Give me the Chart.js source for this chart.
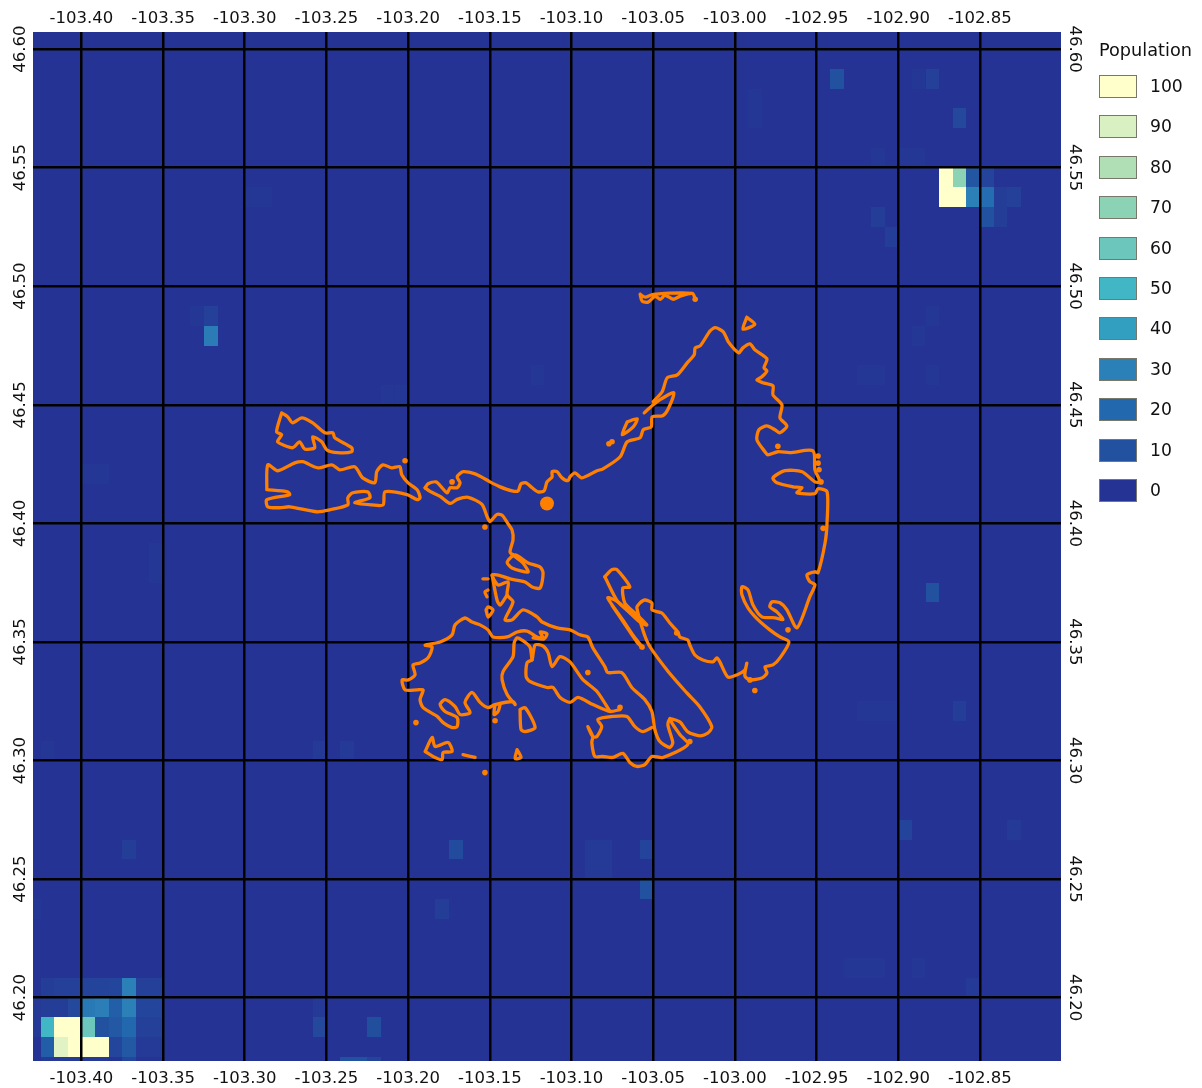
<!DOCTYPE html>
<html>
<head>
<meta charset="utf-8">
<script src="https://cdn.jsdelivr.net/npm/chart.js@4"></script>
<style>
    body { margin: 0; background: #fff; font-family: "DejaVu Sans", sans-serif; color: #111; }
    #wrap { position: relative; width: 1202px; height: 1088px; overflow: hidden; }
    #legend-title { position: absolute; left: 1099px; top: 40px; font-size: 17.7px; }
    .swatch { position: absolute; left: 1099px; width: 36px; height: 21px; border: 1px solid #77776a; }
    .swatch-label { position: absolute; left: 1150px; font-size: 17.2px; }
</style>
</head>
<body>
<div id="wrap">
    <canvas id="chart" width="1202" height="1088"></canvas>
    <div id="legend-title">Population</div>
</div>
<script>
//Axes
const lonTicks = [-103.40, -103.35, -103.30, -103.25, -103.20, -103.15, -103.10, -103.05, -103.00, -102.95, -102.90, -102.85];
const latTicks = [46.60, 46.55, 46.50, 46.45, 46.40, 46.35, 46.30, 46.25, 46.20];
const lonRange = [-103.4296, -102.8004];
const latRange = [46.1733, 46.6072];

//Legend
const legendValues = [100, 90, 80, 70, 60, 50, 40, 30, 20, 10, 0];
const legendColors = ['#ffffcc', '#d9f0c2', '#b0dfb6', '#8cd2b4', '#6cc6bc', '#41b6c4', '#339fc0', '#2c80b8', '#2268ae', '#22519f', '#253494'];

//Population raster, only cells above zero (30 arc second cells, west and north edge)
const cellSize = 1 / 120;
const cellLons = [
    -103.425, -103.4167, -103.4083, -103.40, -103.3917, -103.3833, -103.375, -103.3667, -103.3583,
    -103.4333, -103.425, -103.4167, -103.4083, -103.40, -103.3917, -103.3833, -103.375, -103.3667, -103.3583,
    -103.4333, -103.425, -103.4167, -103.4083, -103.40, -103.3917, -103.3833, -103.375, -103.3667, -103.3583,
    -103.425, -103.4167, -103.4083, -103.40, -103.3917, -103.3833, -103.375, -103.3667, -103.3583,
    -103.425, -103.4167, -103.4083, -103.40, -103.3917, -103.375,
    -102.875, -102.8667, -102.8583, -102.85,
    -102.875, -102.8667, -102.8583, -102.85, -102.8417, -102.8333,
    -102.85, -102.8417,
    -103.375, -103.175, -103.1833, -103.225, -103.2583, -103.2583, -103.2417, -103.2333, -103.225,
    -103.4333, -103.0583, -103.0583, -103.0917, -103.0833, -103.0917, -103.0833, -102.90, -102.8333,
    -102.9333, -102.925, -102.9167, -102.8917, -102.8583,
    -102.9417, -102.8833, -102.8917, -102.8667, -102.9167, -102.90, -102.8917, -102.9167, -102.9083,
    -103.325, -103.325, -103.3333, -102.8833, -102.8667, -102.925, -102.9167, -102.9083,
    -103.30, -103.2917, -102.9917, -102.9917, -103.2167, -103.2083, -103.125, -102.925, -102.9167,
    -102.8833, -102.8917, -102.8833, -103.3583, -103.3583, -103.40, -103.3917, -103.425, -103.2583, -103.2417
];
const cellLats = [
    46.2083, 46.2083, 46.2083, 46.2083, 46.2083, 46.2083, 46.2083, 46.2083, 46.2083,
    46.20, 46.20, 46.20, 46.20, 46.20, 46.20, 46.20, 46.20, 46.20, 46.20,
    46.1917, 46.1917, 46.1917, 46.1917, 46.1917, 46.1917, 46.1917, 46.1917, 46.1917, 46.1917,
    46.1833, 46.1833, 46.1833, 46.1833, 46.1833, 46.1833, 46.1833, 46.1833, 46.1833,
    46.175, 46.175, 46.175, 46.175, 46.175, 46.175,
    46.55, 46.55, 46.55, 46.55,
    46.5417, 46.5417, 46.5417, 46.5417, 46.5417, 46.5417,
    46.5333, 46.5333,
    46.2667, 46.2667, 46.2417, 46.1917, 46.1917, 46.20, 46.175, 46.175, 46.175,
    46.2417, 46.25, 46.2667, 46.2667, 46.2667, 46.2583, 46.2583, 46.275, 46.275,
    46.2167, 46.2167, 46.2167, 46.2167, 46.2083,
    46.5917, 46.5917, 46.5917, 46.575, 46.5583, 46.5583, 46.5583, 46.5333, 46.525,
    46.4833, 46.4917, 46.4917, 46.375, 46.325, 46.325, 46.325, 46.325,
    46.5417, 46.5417, 46.5833, 46.575, 46.4583, 46.4583, 46.4667, 46.4667, 46.4667,
    46.4667, 46.4833, 46.4917, 46.3917, 46.3833, 46.425, 46.425, 46.3083, 46.3083, 46.3083
];
const cellValues = [
    3, 4, 4, 5, 5, 6, 30, 4, 4,
    2, 3, 3, 7, 27, 29, 16, 30, 6, 6,
    2, 50, 100, 100, 60, 10, 13, 20, 4, 4,
    15, 92, 100, 100, 100, 6, 13, 2, 2,
    2, 2, 2, 2, 2, 6,
    100, 70, 12, 5,
    100, 100, 30, 22, 3, 4,
    10, 3,
    3, 8, 3, 9, 7, 2, 10, 10, 5,
    1, 10, 5, 2, 2, 2, 2, 5, 2,
    1, 1, 1, 1, 2,
    10, 4, 1, 7, 1, 1, 1, 3, 3,
    28, 4, 1, 10, 3, 1, 1, 1,
    1, 1, 1, 1, 1, 1, 1, 1, 1,
    1, 1, 1, 1, 1, 1, 1, 1, 2, 2
];

//Lake shore, [lon, lat]
const shoreNorth = [[-103.1896,46.4150],[-103.1878,46.4167],[-103.1829,46.4175],[-103.1792,46.4150],[-103.1761,46.4129],[-103.1743,46.4150],[-103.1700,46.4150],[-103.1682,46.4171],[-103.1700,46.4196],[-103.1663,46.4218],[-103.1590,46.4209],[-103.1541,46.4192],[-103.1499,46.4175],[-103.1437,46.4154],[-103.1364,46.4137],[-103.1327,46.4137],[-103.1309,46.4167],[-103.1278,46.4171],[-103.1241,46.4150],[-103.1205,46.4133],[-103.1168,46.4137],[-103.1150,46.4175],[-103.1119,46.4196],[-103.1119,46.4218],[-103.1089,46.4218],[-103.1058,46.4192],[-103.1021,46.4180],[-103.1009,46.4196],[-103.0979,46.4213],[-103.0936,46.4192],[-103.0844,46.4222],[-103.0807,46.4230],[-103.0702,46.4281],[-103.0659,46.4344],[-103.0580,46.4361],[-103.0561,46.4395],[-103.0512,46.4407],[-103.0506,46.4449],[-103.0442,46.4454],[-103.0411,46.4479],[-103.0374,46.4551],[-103.0460,46.4521],[-103.0500,46.4500],[-103.0555,46.4466]];
const shoreEast = [[-103.0500,46.4513],[-103.0445,46.4555],[-103.0414,46.4614],[-103.0353,46.4626],[-103.0292,46.4677],[-103.0249,46.4711],[-103.0243,46.4740],[-103.0212,46.4749],[-103.0151,46.4812],[-103.0120,46.4825],[-103.0071,46.4808],[-103.0041,46.4766],[-103.0000,46.4732],[-102.9976,46.4719],[-102.9951,46.4740],[-102.9908,46.4757],[-102.9878,46.4732],[-102.9804,46.4694],[-102.9822,46.4656],[-102.9804,46.4643],[-102.9835,46.4618],[-102.9865,46.4605],[-102.9829,46.4593],[-102.9767,46.4580],[-102.9767,46.4542],[-102.9712,46.4500],[-102.9724,46.4445],[-102.9682,46.4411],[-102.9724,46.4382],[-102.9755,46.4395],[-102.9804,46.4411],[-102.9853,46.4395],[-102.9865,46.4352],[-102.9816,46.4302],[-102.9798,46.4289],[-102.9737,46.4302],[-102.9663,46.4298],[-102.9522,46.4306],[-102.9510,46.4226],[-102.9479,46.4175],[-102.9510,46.4175],[-102.9589,46.4218],[-102.9694,46.4222],[-102.9767,46.4192],[-102.9743,46.4171],[-102.9645,46.4154],[-102.9589,46.4150],[-102.9620,46.4129],[-102.9510,46.4125],[-102.9491,46.4146],[-102.9436,46.4133],[-102.9436,46.4003],[-102.9448,46.3918],[-102.9491,46.3792],[-102.9510,46.3796],[-102.9559,46.3783],[-102.9541,46.3754],[-102.9510,46.3741],[-102.9541,46.3691],[-102.9620,46.3560],[-102.9682,46.3636],[-102.9724,46.3665],[-102.9773,46.3669],[-102.9786,46.3648],[-102.9743,46.3627],[-102.9706,46.3594],[-102.9755,46.3602],[-102.9835,46.3606],[-102.9890,46.3657],[-102.9920,46.3720],[-102.9957,46.3733],[-102.9957,46.3699],[-102.9920,46.3644],[-102.9859,46.3594],[-102.9786,46.3551],[-102.9724,46.3521],[-102.9669,46.3500],[-102.9724,46.3433],[-102.9767,46.3403],[-102.9816,46.3395],[-102.9804,46.3369],[-102.9835,46.3348],[-102.9908,46.3340],[-102.9939,46.3357],[-102.9927,46.3411],[-102.9939,46.3382],[-102.9988,46.3361],[-103.0043,46.3352],[-103.0092,46.3416],[-103.0110,46.3433],[-103.0135,46.3416],[-103.0196,46.3424],[-103.0245,46.3445],[-103.0276,46.3487],[-103.0288,46.3508],[-103.0337,46.3521],[-103.0349,46.3542],[-103.0398,46.3580],[-103.0447,46.3622],[-103.0508,46.3635],[-103.0508,46.3664],[-103.0551,46.3677],[-103.0582,46.3664],[-103.0600,46.3643],[-103.0533,46.3496],[-103.0416,46.3382],[-103.0294,46.3285],[-103.0214,46.3226],[-103.0141,46.3142],[-103.0165,46.3116],[-103.0214,46.3104],[-103.0288,46.3121],[-103.0337,46.3163],[-103.0398,46.3175],[-103.0410,46.3150],[-103.0380,46.3076],[-103.0398,46.3055],[-103.0459,46.3080],[-103.0490,46.3131],[-103.0508,46.3207],[-103.0551,46.3257],[-103.0631,46.3308],[-103.0692,46.3371],[-103.0778,46.3371],[-103.0796,46.3396],[-103.0870,46.3476],[-103.0900,46.3521],[-103.0949,46.3530],[-103.1009,46.3551],[-103.1089,46.3559],[-103.1180,46.3584],[-103.1211,46.3606],[-103.1297,46.3635],[-103.1364,46.3593],[-103.1407,46.3593],[-103.1358,46.3669],[-103.1394,46.3698],[-103.1388,46.3753],[-103.1449,46.3740],[-103.1486,46.3782],[-103.1449,46.3782],[-103.1376,46.3766],[-103.1284,46.3753],[-103.1241,46.3732],[-103.1192,46.3728],[-103.1174,46.3791],[-103.1192,46.3816],[-103.1266,46.3833],[-103.1345,46.3867],[-103.1394,46.3837],[-103.1364,46.3812],[-103.1266,46.3795],[-103.1297,46.3833],[-103.1345,46.3859],[-103.1376,46.3879],[-103.1358,46.3930],[-103.1364,46.3972],[-103.1394,46.4004],[-103.1425,46.4034],[-103.1456,46.4038],[-103.1499,46.4008],[-103.1517,46.4029],[-103.1548,46.4080],[-103.1633,46.4110],[-103.1700,46.4101],[-103.1743,46.4084],[-103.1804,46.4114],[-103.1866,46.4135],[-103.1896,46.4150]];
const shoreSouth = [[-103.1235,46.3517],[-103.1168,46.3513],[-103.1150,46.3534],[-103.1192,46.3542],[-103.1174,46.3517],[-103.1211,46.3521],[-103.1272,46.3546],[-103.1333,46.3542],[-103.1394,46.3521],[-103.1480,46.3521],[-103.1511,46.3551],[-103.1560,46.3572],[-103.1609,46.3584],[-103.1652,46.3601],[-103.1713,46.3572],[-103.1731,46.3530],[-103.1804,46.3500],[-103.1896,46.3487],[-103.1853,46.3479],[-103.1878,46.3433],[-103.1927,46.3411],[-103.1970,46.3403],[-103.1958,46.3361],[-103.2000,46.3340],[-103.2037,46.3340],[-103.2019,46.3298],[-103.1945,46.3298],[-103.1908,46.3298],[-103.1927,46.3257],[-103.1908,46.3223],[-103.1822,46.3186],[-103.1786,46.3160],[-103.1731,46.3139],[-103.1700,46.3143],[-103.1700,46.3181],[-103.1774,46.3207],[-103.1804,46.3236],[-103.1774,46.3257],[-103.1713,46.3228],[-103.1682,46.3194],[-103.1621,46.3202],[-103.1652,46.3245],[-103.1609,46.3287],[-103.1560,46.3245],[-103.1511,46.3223],[-103.1468,46.3236],[-103.1358,46.3249],[-103.1345,46.3236],[-103.1394,46.3278],[-103.1425,46.3341],[-103.1419,46.3375],[-103.1358,46.3438],[-103.1351,46.3496],[-103.1333,46.3517],[-103.1303,46.3508],[-103.1254,46.3479],[-103.1241,46.3424],[-103.1223,46.3487],[-103.1174,46.3483],[-103.1143,46.3454],[-103.1119,46.3396],[-103.1070,46.3438],[-103.1009,46.3416],[-103.0930,46.3341],[-103.0844,46.3291],[-103.0765,46.3207]];
const shoreInlet = [[-103.1241,46.3424],[-103.1272,46.3413],[-103.1278,46.3354],[-103.1254,46.3333],[-103.1150,46.3308],[-103.1113,46.3308],[-103.1070,46.3266],[-103.1009,46.3245],[-103.0960,46.3266],[-103.0869,46.3236],[-103.0765,46.3207],[-103.0703,46.3215]];
const shoreBlock = [[-103.0508,46.3139],[-103.0563,46.3122],[-103.0612,46.3143],[-103.0661,46.3186],[-103.0747,46.3186],[-103.0839,46.3173],[-103.0815,46.3143],[-103.0845,46.3101],[-103.0870,46.3101],[-103.0900,46.3143],[-103.0870,46.3101],[-103.0876,46.3076],[-103.0857,46.3017],[-103.0808,46.3017],[-103.0747,46.3013],[-103.0686,46.3030],[-103.0643,46.2992],[-103.0600,46.2975],[-103.0551,46.2983],[-103.0508,46.3017],[-103.0441,46.3013],[-103.0288,46.3067],[-103.0337,46.3110],[-103.0380,46.3152],[-103.0398,46.3177]];
const shoreStrait = [[-103.0796,46.3775],[-103.0753,46.3805],[-103.0722,46.3805],[-103.0643,46.3732],[-103.0686,46.3728],[-103.0674,46.3664],[-103.0612,46.3622],[-103.0539,46.3572],[-103.0582,46.3584],[-103.0716,46.3669],[-103.0778,46.3686],[-103.0686,46.3593],[-103.0625,46.3530],[-103.0563,46.3475],[-103.0600,46.3500],[-103.0753,46.3656]];
const shoreStraitWest = [[-103.0796,46.3775],[-103.0716,46.3669],[-103.0630,46.3618]];
const shoreBay = [[-103.1486,46.3782],[-103.1456,46.3677],[-103.1437,46.3656],[-103.1394,46.3698]];
const shoreWestBlock = [[-103.2865,46.4142],[-103.2859,46.4247],[-103.2798,46.4222],[-103.2694,46.4255],[-103.2645,46.4260],[-103.2553,46.4234],[-103.2467,46.4247],[-103.2418,46.4226],[-103.2327,46.4239],[-103.2278,46.4192],[-103.2204,46.4171],[-103.2192,46.4218],[-103.2155,46.4247],[-103.2100,46.4234],[-103.2051,46.4239],[-103.2039,46.4205],[-103.2000,46.4171],[-103.1945,46.4142],[-103.1927,46.4108],[-103.1945,46.4100],[-103.2006,46.4121],[-103.2141,46.4133],[-103.2153,46.4078],[-103.2220,46.4078],[-103.2327,46.4087],[-103.2234,46.4108],[-103.2247,46.4133],[-103.2339,46.4129],[-103.2369,46.4108],[-103.2369,46.4078],[-103.2480,46.4057],[-103.2559,46.4049],[-103.2725,46.4070],[-103.2786,46.4066],[-103.2859,46.4070],[-103.2865,46.4100],[-103.2725,46.4121],[-103.2737,46.4133],[-103.2865,46.4142]];
const shoreWestArm = [[-103.2774,46.4466],[-103.2805,46.4386],[-103.2774,46.4374],[-103.2799,46.4344],[-103.2707,46.4319],[-103.2664,46.4344],[-103.2633,46.4314],[-103.2572,46.4319],[-103.2584,46.4365],[-103.2529,46.4344],[-103.2498,46.4310],[-103.2431,46.4298],[-103.2345,46.4302],[-103.2345,46.4319],[-103.2449,46.4361],[-103.2461,46.4382],[-103.2510,46.4382],[-103.2584,46.4424],[-103.2651,46.4445],[-103.2707,46.4424],[-103.2737,46.4449],[-103.2774,46.4466]];
const shoreNorthStrip = [[-103.0580,46.4966],[-103.0568,46.4937],[-103.0531,46.4933],[-103.0488,46.4958],[-103.0457,46.4945],[-103.0427,46.4962],[-103.0378,46.4945],[-103.0335,46.4958],[-103.0261,46.4970],[-103.0243,46.4945],[-103.0261,46.4970],[-103.0500,46.4966],[-103.0549,46.4954],[-103.0580,46.4966]];
const shoreTriangle = [[-102.9927,46.4869],[-102.9878,46.4840],[-102.9951,46.4819],[-102.9927,46.4869]];
const shoreLake = [[-103.0659,46.4428],[-103.0598,46.4441],[-103.0622,46.4407],[-103.0690,46.4374],[-103.0659,46.4428]];
const islandOne = [[-103.1315,46.3215],[-103.1284,46.3223],[-103.1223,46.3139],[-103.1284,46.3122],[-103.1309,46.3131],[-103.1315,46.3215]];
const islandTwo = [[-103.1333,46.3046],[-103.1309,46.3013],[-103.1345,46.3008],[-103.1333,46.3046]];
const islandThree = [[-103.1896,46.3038],[-103.1853,46.3097],[-103.1835,46.3059],[-103.1755,46.3076],[-103.1731,46.3038],[-103.1786,46.3034],[-103.1792,46.3004],[-103.1847,46.3017],[-103.1896,46.3038]];
const islandStroke = [[-103.1664,46.3025],[-103.1590,46.3013]];
const islandSmallA = [[-103.1542,46.3766],[-103.1511,46.3766]];
const islandSmallB = [[-103.1511,46.3719],[-103.1530,46.3711],[-103.1517,46.3690]];
const islandSmallC = [[-103.1523,46.3635],[-103.1511,46.3605],[-103.1480,46.3635],[-103.1511,46.3648],[-103.1523,46.3635]];
const islandSmallD = [[-103.1468,46.3236],[-103.1474,46.3194],[-103.1449,46.3207],[-103.1437,46.3236]];
const shorePaths = [shoreNorth, shoreEast, shoreSouth, shoreInlet, shoreBlock, shoreStrait, shoreStraitWest, shoreBay, shoreWestBlock, shoreWestArm, shoreNorthStrip, shoreTriangle, shoreLake, islandOne, islandTwo, islandThree, islandStroke, islandSmallA, islandSmallB, islandSmallC, islandSmallD];

//Islets and the town
const isletPoints = [[-103.2019,46.4264],[-103.1530,46.3985],[-103.1731,46.4175],[-103.0752,46.4344],[-103.0771,46.4336],[-103.1468,46.3168],[-103.1952,46.3160],[-103.1530,46.2949],[-102.9878,46.3295],[-102.9737,46.4325],[-102.9491,46.4284],[-102.9491,46.4254],[-102.9485,46.4226],[-102.9473,46.4175],[-102.9460,46.3979],[-103.0243,46.4945],[-103.0276,46.3080],[-103.0356,46.3538],[-103.0900,46.3371],[-103.0703,46.3224],[-102.9908,46.3340],[-102.9675,46.3551],[-103.0569,46.3479]];
const townPoints = [[-103.1150,46.4084]];

const shoreColor = '#ff7f00';
const tickFont = { family: '"DejaVu Sans", sans-serif', size: 16.5 };

function toXY(pairs) {
    return pairs.map(p => ({ x: p[0], y: p[1] }));
}

function hexToRgb(hex) {
    return [1, 3, 5].map(i => parseInt(hex.slice(i, i + 2), 16));
}

/**
 * Colour of a population value on the legend's ramp.
 */
function cellColor(value) {
    const ramp = legendColors.slice().reverse();
    const pos = Math.min(value / 10, ramp.length - 1);
    const low = Math.floor(pos);
    const high = Math.min(low + 1, ramp.length - 1);
    const a = hexToRgb(ramp[low]);
    const b = hexToRgb(ramp[high]);
    const c = a.map((v, i) => Math.round(v + (b[i] - v) * (pos - low)));
    return `rgb(${c[0]}, ${c[1]}, ${c[2]})`;
}

const rasterPlugin = {
    id: 'raster',
    beforeDraw(chart) {
        const { ctx, chartArea, scales } = chart;
        ctx.save();
        ctx.beginPath();
        ctx.rect(chartArea.left, chartArea.top, chartArea.width, chartArea.height);
        ctx.clip();
        ctx.fillStyle = legendColors[legendColors.length - 1];
        ctx.fillRect(chartArea.left, chartArea.top, chartArea.width, chartArea.height);
        cellValues.forEach((value, i) => {
            // whole pixels, otherwise seams show between neighbouring cells
            const x0 = Math.round(scales.x.getPixelForValue(cellLons[i]));
            const x1 = Math.round(scales.x.getPixelForValue(cellLons[i] + cellSize));
            const y0 = Math.round(scales.y.getPixelForValue(cellLats[i]));
            const y1 = Math.round(scales.y.getPixelForValue(cellLats[i] - cellSize));
            ctx.fillStyle = cellColor(value);
            ctx.fillRect(x0, y0, x1 - x0, y1 - y0);
        });
        ctx.restore();
    }
};

function lonScale(position, height, padding, showGrid) {
    return {
        type: 'linear', axis: 'x', position: position, min: lonRange[0], max: lonRange[1],
        afterBuildTicks: (scale) => { scale.ticks = lonTicks.map(v => ({ value: v })); },
        afterFit: (scale) => { scale.height = height; },
        grid: { display: showGrid, color: '#000', lineWidth: 2.5, drawTicks: false },
        border: { display: false },
        ticks: {
            autoSkip: false, maxRotation: 0, minRotation: 0, padding: padding, color: '#111', font: tickFont,
            callback: (v) => v.toFixed(2)
        }
    };
}

function latScale(position, rotation, padding, showGrid) {
    return {
        type: 'linear', axis: 'y', position: position, min: latRange[0], max: latRange[1],
        afterBuildTicks: (scale) => { scale.ticks = latTicks.map(v => ({ value: v })); },
        afterFit: (scale) => { scale.width = 33; },
        grid: { display: showGrid, color: '#000', lineWidth: 2.5, drawTicks: false },
        border: { display: false },
        ticks: {
            autoSkip: false, minRotation: rotation, maxRotation: rotation, crossAlign: 'center', padding: padding, color: '#111', font: tickFont,
            callback: (v) => v.toFixed(2)
        }
    };
}

const datasets = shorePaths.map(path => ({
    data: toXY(path),
    showLine: true,
    borderColor: shoreColor,
    borderWidth: 3.3,
    borderJoinStyle: 'round',
    borderCapStyle: 'round',
    tension: 0.25,
    pointRadius: 0,
    xAxisID: 'x',
    yAxisID: 'y'
}));
datasets.push({ data: toXY(isletPoints), backgroundColor: shoreColor, borderWidth: 0, pointRadius: 2.8, xAxisID: 'x', yAxisID: 'y' });
datasets.push({ data: toXY(townPoints), backgroundColor: shoreColor, borderWidth: 0, pointRadius: 7, xAxisID: 'x', yAxisID: 'y' });

new Chart(document.getElementById('chart'), {
    type: 'scatter',
    data: { datasets: datasets },
    plugins: [rasterPlugin],
    options: {
        responsive: false,
        animation: false,
        layout: { padding: { right: 108 } },
        plugins: { legend: { display: false }, tooltip: { enabled: false } },
        scales: {
            x: lonScale('bottom', 27, 8, true),
            xTop: lonScale('top', 32, 3, false),
            y: latScale('left', 90, -11, true),
            yRight: latScale('right', -90, -10, false)
        }
    }
});

const wrap = document.getElementById('wrap');
legendValues.forEach((value, i) => {
    const top = 75 + i * 40.4;
    const swatch = document.createElement('div');
    swatch.className = 'swatch';
    swatch.style.top = `${top}px`;
    swatch.style.background = legendColors[i];
    wrap.appendChild(swatch);
    const label = document.createElement('div');
    label.className = 'swatch-label';
    label.style.top = `${top + 1}px`;
    label.textContent = value;
    wrap.appendChild(label);
});
</script>
</body>
</html>
